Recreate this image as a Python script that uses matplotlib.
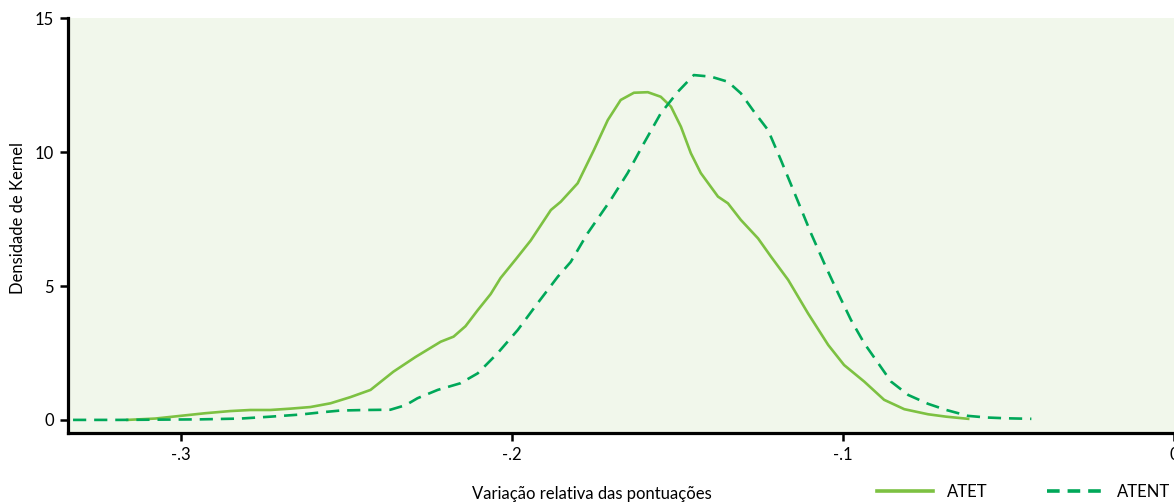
import matplotlib
matplotlib.use("Agg")
import matplotlib.pyplot as plt
from matplotlib.lines import Line2D

plt.rcParams['font.family'] = ['Lato', 'DejaVu Sans']

# ATET kernel density
atet_x = [-0.3163, -0.3079, -0.3003, -0.2927, -0.2852, -0.2791, -0.2731, -0.2670,
          -0.2610, -0.2549, -0.2489, -0.2428, -0.2359, -0.2292, -0.2216, -0.2177,
          -0.2141, -0.2104, -0.2065, -0.2035, -0.1989, -0.1944, -0.1883, -0.1853,
          -0.1802, -0.1753, -0.1711, -0.1672, -0.1632, -0.1590, -0.1551, -0.1520,
          -0.1490, -0.1460, -0.1430, -0.1378, -0.1348, -0.1309, -0.1257, -0.1218,
          -0.1166, -0.1106, -0.1045, -0.0997, -0.0936, -0.0876, -0.0815, -0.0743,
          -0.0688, -0.0622]
atet_y = [0.0, 0.05, 0.15, 0.25, 0.33, 0.37, 0.37, 0.42,
          0.48, 0.62, 0.85, 1.12, 1.8, 2.35, 2.92, 3.11,
          3.5, 4.1, 4.7, 5.3, 6.0, 6.7, 7.84, 8.15,
          8.84, 10.08, 11.2, 11.95, 12.22, 12.24, 12.07, 11.7,
          10.95, 9.96, 9.22, 8.34, 8.09, 7.47, 6.78, 6.1,
          5.23, 3.98, 2.8, 2.05, 1.43, 0.75, 0.4, 0.21,
          0.12, 0.04]

# ATENT kernel density
atent_x = [-0.3327, -0.3185, -0.3064, -0.2943, -0.2821, -0.2731, -0.2640, -0.2579,
           -0.2519, -0.2443, -0.2368, -0.2322, -0.2286, -0.2225, -0.2156, -0.2104,
           -0.2044, -0.1983, -0.1923, -0.1862, -0.1823, -0.1772, -0.1702, -0.1651,
           -0.1602, -0.1551, -0.1499, -0.1451, -0.1399, -0.1348, -0.1309, -0.1269,
           -0.1227, -0.1188, -0.1136, -0.1097, -0.1057, -0.1015, -0.0976, -0.0936,
           -0.0894, -0.0855, -0.0803, -0.0743, -0.0688, -0.0652, -0.0622, -0.0567,
           -0.0507, -0.0431]
atent_y = [0.0, 0.0, 0.01, 0.02, 0.05, 0.12, 0.2, 0.28,
           0.35, 0.37, 0.38, 0.55, 0.81, 1.12, 1.37, 1.74,
           2.49, 3.36, 4.36, 5.35, 5.9, 6.97, 8.22, 9.22,
           10.33, 11.45, 12.26, 12.88, 12.82, 12.63, 12.2, 11.51,
           10.83, 9.71, 8.15, 6.97, 5.85, 4.73, 3.73, 2.86,
           2.12, 1.43, 0.93, 0.6, 0.37, 0.25, 0.15, 0.09,
           0.06, 0.04]

x_ticks = [-0.3, -0.2, -0.1, 0.0]
x_ticklabels = ['-.3', '-.2', '-.1', '0']
y_ticks = [0, 5, 10, 15]
y_ticklabels = ['0', '5', '10', '15']

c_atet = '#7DC142'
c_atent = '#00A859'

fig = plt.figure(figsize=(11.74, 5.03), dpi=100)
ax = fig.add_axes([0.0577, 0.1386, 0.9423, 0.825])
ax.set_facecolor('#F1F7EB')

ax.plot(atet_x, atet_y, color=c_atet, lw=1.9, solid_joinstyle='round')
ax.plot(atent_x, atent_y, color=c_atent, lw=1.9, dashes=(5, 3))

ax.set_xlim(-0.3343, 0.0)
ax.set_ylim(-0.5, 15)

for s in ['top', 'right']:
    ax.spines[s].set_visible(False)
for s in ['left', 'bottom']:
    ax.spines[s].set_linewidth(2.3)
    ax.spines[s].set_color('black')

ax.set_xticks(x_ticks)
ax.set_xticklabels(x_ticklabels)
ax.set_yticks(y_ticks)
ax.set_yticklabels(y_ticklabels)
ax.tick_params(axis='both', length=6, width=1.8, labelsize=12, pad=4, color='black')
for lab in ax.get_xticklabels():
    lab.set_clip_on(False)

fig.text(18 / 1174, 1 - 218 / 503, 'Densidade de Kernel', rotation=90,
         ha='center', va='center', fontsize=12)
fig.text(592 / 1174, 1 - 494 / 503, 'Variação relativa das pontuações',
         ha='center', va='center', fontsize=12)

handles = [Line2D([], [], color=c_atet, lw=2.6),
           Line2D([], [], color=c_atent, lw=2.6, dashes=(3.5, 2.2))]
fig.legend(handles, ['ATET', 'ATENT'], loc='center right',
           bbox_to_anchor=(0.997, 1 - 492 / 503), ncol=2, frameon=False,
           fontsize=12, handlelength=3.4, handletextpad=0.8, columnspacing=3.6,
           borderaxespad=0, borderpad=0)

fig.savefig('out.png', dpi=100)
